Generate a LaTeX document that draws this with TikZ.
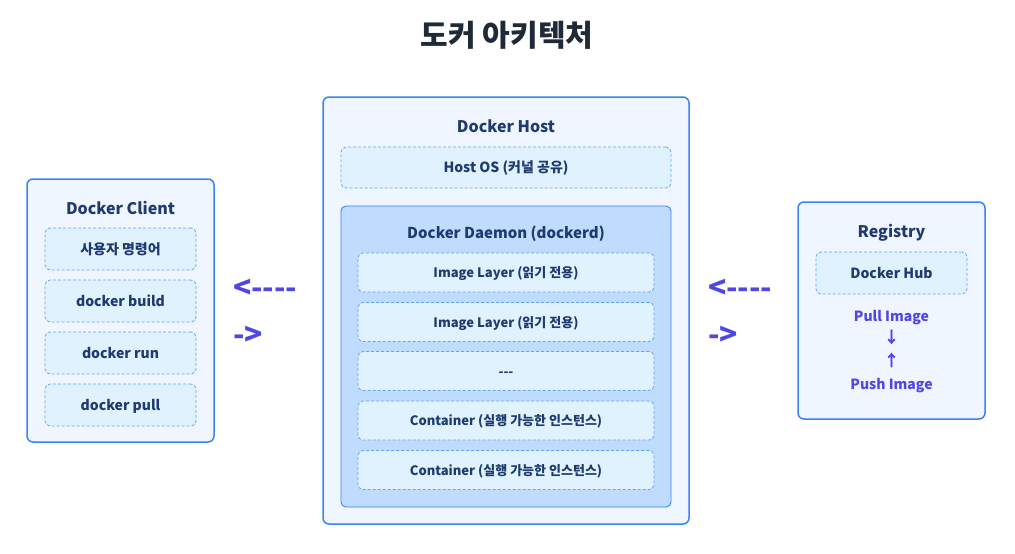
\documentclass[tikz,border=0pt]{standalone}
\usepackage{fontspec}
\setmainfont{Noto Sans CJK KR}[Ligatures=TeXOff]
\usepackage{tikz}
\usetikzlibrary{calc}
\definecolor{myblue}{RGB}{59, 130, 246}
\definecolor{mydash}{RGB}{96, 165, 250}
\definecolor{mypale}{RGB}{239, 246, 255}
\definecolor{myitem}{RGB}{224, 242, 254}
\definecolor{mydaemon}{RGB}{191, 219, 254}
\definecolor{mynavy}{RGB}{30, 58, 110}
\definecolor{mypurple}{RGB}{79, 70, 229}
\definecolor{mytitle}{RGB}{31, 41, 55}
\tikzset{
  every node/.style = {text height = 1.08em, text depth = 0pt},
  outerbox/.style = {draw = myblue, line width = 1.5pt, fill = mypale, rounded corners = 6pt},
  itembox/.style = {draw = mydash, line width = 0.8pt, dash pattern = on 3pt off 2pt, fill = myitem, rounded corners = 5pt, text = mynavy, font = \bfseries\fontsize{14}{17}\selectfont},
  layerbox/.style = {itembox, minimum width = 296pt, minimum height = 39pt, font = \bfseries\fontsize{13}{16}\selectfont},
  heading/.style = {text = mynavy, font = \bfseries\fontsize{16}{19}\selectfont},
  flowtext/.style = {text = mypurple, font = \bfseries\fontsize{14}{17}\selectfont},
  signtext/.style = {text = mypurple, font = \bfseries\fontsize{30}{34}\selectfont, anchor = base west, inner sep = 0pt}
}

\begin{document}
\begin{tikzpicture}[x = 1pt, y = -1pt]
\useasboundingbox (0, 0) rectangle (1015, 554);
\node[text = mytitle, font = \bfseries\fontsize{30}{34}\selectfont] (title) at (507, 41) {도커 아키텍처};

% client
\draw[outerbox] (27, 179) rectangle (214, 442);
\node[heading] (clienthead) at (120.5, 209.5) {Docker Client};
\node[itembox, minimum width = 151pt, minimum height = 42pt] (cmd) at (120.5, 249) {사용자 명령어};
\node[itembox, minimum width = 151pt, minimum height = 42pt] (build) at (120.5, 301) {docker build};
\node[itembox, minimum width = 151pt, minimum height = 42pt] (run) at (120.5, 353) {docker run};
\node[itembox, minimum width = 151pt, minimum height = 42pt] (pull) at (120.5, 405) {docker pull};

\node[signtext] (leftback) at (233, 298) {<----};
\node[signtext] (leftgo) at (233, 345) {->};

% host
\draw[outerbox] (323, 97) rectangle (689, 524);
\node[heading] (hosthead) at (506, 127.5) {Docker Host};
\node[itembox, minimum width = 330pt, minimum height = 41pt] (hostos) at (506, 167.5) {Host OS (커널 공유)};
\draw[draw = myblue, line width = 0.9pt, fill = mydaemon, rounded corners = 5pt] (341, 206) rectangle (671, 507);
\node[heading, font = \bfseries\fontsize{15}{18}\selectfont] (daemonhead) at (506, 233.5) {Docker Daemon (dockerd)};
\node[layerbox] (layera) at (506, 272.5) {Image Layer (읽기 전용)};
\node[layerbox] (layerb) at (506, 322) {Image Layer (읽기 전용)};
\node[layerbox] (layerc) at (506, 371) {---};
\node[layerbox] (conta) at (506, 420.5) {Container (실행 가능한 인스턴스)};
\node[layerbox] (contb) at (506, 470) {Container (실행 가능한 인스턴스)};

\node[signtext] (rightback) at (708, 298) {<----};
\node[signtext] (rightgo) at (708, 345) {->};

% registry
\draw[outerbox] (798, 202) rectangle (985, 419);
\node[heading] (reghead) at (891.5, 232.5) {Registry};
\node[itembox, minimum width = 151pt, minimum height = 42pt] (hub) at (891.5, 273) {Docker Hub};
\node[flowtext] (pullimg) at (891.5, 316) {Pull Image};
\node[flowtext, font = \bfseries\fontsize{16}{19}\selectfont] (down) at (891.5, 338) {↓};
\node[flowtext, font = \bfseries\fontsize{16}{19}\selectfont] (up) at (891.5, 361) {↑};
\node[flowtext] (pushimg) at (891.5, 384) {Push Image};
\end{tikzpicture}
\end{document}
